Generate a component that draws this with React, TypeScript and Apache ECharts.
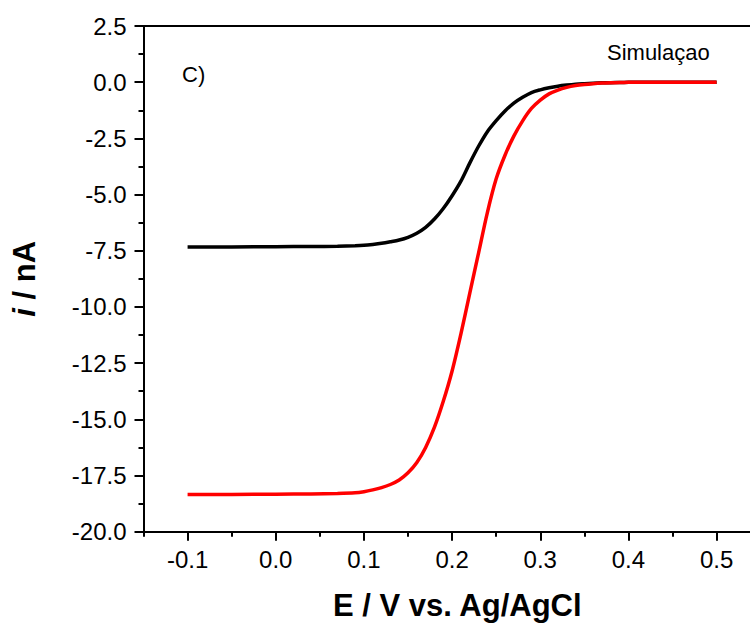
import React, { useEffect, useRef } from "react";
import * as echarts from "echarts";

const potentials = [-0.1, -0.05, 0, 0.04, 0.07, 0.09, 0.1, 0.11, 0.12, 0.13, 0.14, 0.15, 0.16, 0.17, 0.18, 0.19, 0.2, 0.21, 0.22, 0.23, 0.24, 0.25, 0.26, 0.27, 0.28, 0.29, 0.3, 0.31, 0.32, 0.33, 0.34, 0.35, 0.36, 0.37, 0.38, 0.39, 0.4, 0.42, 0.45, 0.5];
const blackCurrent = [-7.33, -7.33, -7.32, -7.31, -7.3, -7.28, -7.26, -7.22, -7.17, -7.1, -7.02, -6.9, -6.72, -6.46, -6.09, -5.62, -5.05, -4.4, -3.6, -2.85, -2.2, -1.71, -1.28, -0.93, -0.67, -0.46, -0.34, -0.25, -0.18, -0.13, -0.09, -0.065, -0.045, -0.03, -0.02, -0.012, -0.007, -0.003, 0, 0];
const redCurrent = [-18.34, -18.34, -18.33, -18.32, -18.3, -18.27, -18.22, -18.14, -18.04, -17.9, -17.7, -17.38, -16.92, -16.25, -15.35, -14.2, -12.85, -11.2, -9.4, -7.6, -5.8, -4.3, -3.25, -2.4, -1.72, -1.17, -0.8, -0.52, -0.35, -0.23, -0.15, -0.1, -0.065, -0.04, -0.025, -0.015, -0.008, -0.003, 0, 0];

const xMajor = [-0.1, 0, 0.1, 0.2, 0.3, 0.4, 0.5];
const xMinor = [-0.15, -0.05, 0.05, 0.15, 0.25, 0.35, 0.45, 0.55];

const FONT = "'Liberation Sans', Arial, sans-serif";

export default function App() {
  const ref = useRef<HTMLDivElement>(null);
  useEffect(() => {
    if (!ref.current) return;
    const chart = echarts.init(ref.current, null, { renderer: "svg" });
    const axisLine = { show: true, onZero: false, lineStyle: { color: "#000", width: 2 } };
    chart.setOption({
      animation: false,
      backgroundColor: "#fff",
      grid: { left: 143.5, top: 26, right: -10.7, bottom: 101.3, containLabel: false, outerBoundsMode: "none" },
      xAxis: [
        {
          type: "value",
          min: -0.15,
          max: 0.55,
          position: "bottom",
          axisLine,
          splitLine: { show: false },
          axisTick: { show: true, customValues: xMajor, length: 9, lineStyle: { color: "#000", width: 2 } },
          axisLabel: {
            customValues: xMajor,
            formatter: (v: number) => v.toFixed(1),
            color: "#000",
            fontSize: 24,
            fontFamily: FONT,
            margin: 16,
          },
        },
        {
          type: "value",
          min: -0.15,
          max: 0.55,
          position: "bottom",
          axisLine: { show: false, onZero: false },
          splitLine: { show: false },
          axisTick: { show: true, customValues: xMinor, length: 5, lineStyle: { color: "#000", width: 2 } },
          axisLabel: { show: false },
        },
        {
          type: "value",
          min: -0.15,
          max: 0.55,
          position: "top",
          axisLine,
          splitLine: { show: false },
          axisTick: { show: false },
          axisLabel: { show: false },
        },
      ],
      yAxis: {
        type: "value",
        min: -20,
        max: 2.5,
        interval: 2.5,
        axisLine,
        splitLine: { show: false },
        axisTick: { show: true, length: 9, lineStyle: { color: "#000", width: 2 } },
        minorTick: { show: true, splitNumber: 2, length: 5, lineStyle: { color: "#000", width: 2 } },
        axisLabel: {
          formatter: (v: number) => v.toFixed(1),
          color: "#000",
          fontSize: 24,
          fontFamily: FONT,
          margin: 17,
        },
        name: "{i|i} / nA",
        nameLocation: "middle",
        nameRotate: 90,
        nameGap: 104,
        nameTextStyle: {
          color: "#000",
          fontSize: 31,
          fontWeight: "bold",
          fontFamily: FONT,
          rich: {
            i: { fontStyle: "italic", fontWeight: "bold", fontSize: 31, fontFamily: FONT, color: "#000" },
          },
        },
      },
      graphic: [
        {
          type: "text",
          left: 458 - 125,
          top: 607 - 17,
          style: { text: "E / V vs. Ag/AgCl", fontSize: 31, fontWeight: "bold", fontFamily: FONT, fill: "#000" },
        },
        {
          type: "text",
          x: 182,
          y: 74,
          style: { text: "C)", fontSize: 22, fontFamily: FONT, fill: "#000", verticalAlign: "middle" },
        },
        {
          type: "text",
          x: 607,
          y: 52,
          style: { text: "Simulaçao", fontSize: 22, fontFamily: FONT, fill: "#000", verticalAlign: "middle" },
        },
      ],
      series: [
        {
          type: "line",
          xAxisIndex: 0,
          data: potentials.map((e, i) => [e, blackCurrent[i]]),
          showSymbol: false,
          smooth: 0.3,
          lineStyle: { color: "#000", width: 3.5 },
          z: 3,
        },
        {
          type: "line",
          xAxisIndex: 0,
          data: potentials.map((e, i) => [e, redCurrent[i]]),
          showSymbol: false,
          smooth: 0.3,
          lineStyle: { color: "#ff0000", width: 3.5 },
          z: 4,
        },
      ],
    });
    return () => chart.dispose();
  }, []);
  return (
    <div
      ref={ref}
      style={{ position: "absolute", left: 0, top: 0, width: 750, height: 633, background: "#fff" }}
    />
  );
}
